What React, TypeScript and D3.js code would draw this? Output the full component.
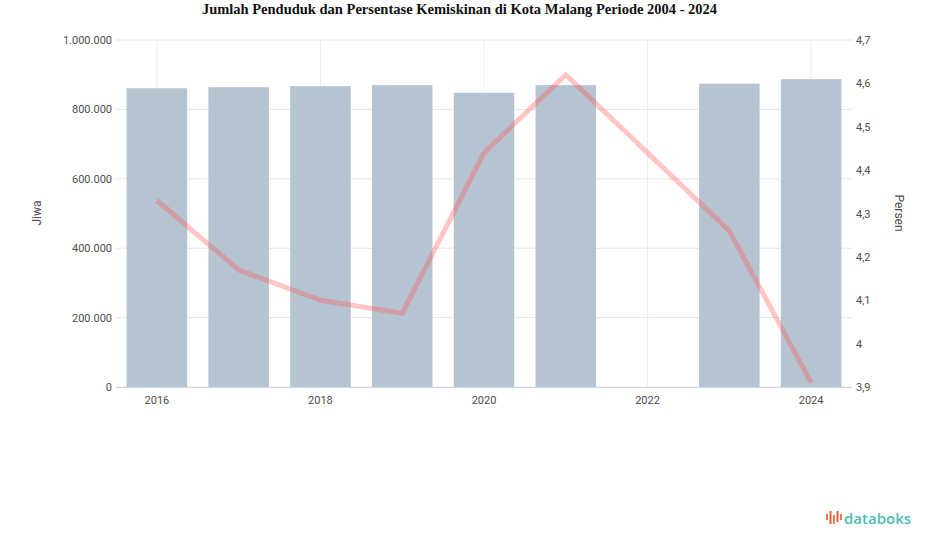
import React from "react";
import * as d3 from "d3";

const years = ["2016", "2017", "2018", "2019", "2020", "2021", "2022", "2023", "2024"];
const population: (number | null)[] = [861000, 864000, 867000, 870000, 848000, 870000, null, 874000, 887000];
const poverty: (number | null)[] = [4.33, 4.17, 4.1, 4.07, 4.44, 4.62, null, 4.26, 3.91];
const leftTicks = [0, 200000, 400000, 600000, 800000, 1000000];
const rightTicks = [3.9, 4.0, 4.1, 4.2, 4.3, 4.4, 4.5, 4.6, 4.7];
const labeledYears = ["2016", "2018", "2020", "2022", "2024"];

const W = 925;
const H = 547;
const top = 40;
const bottom = 387;
const left = 116;
const right = 852;

export default function App() {
  const x = d3.scaleBand<string>().domain(years).range([left, right]).paddingInner(0.26).paddingOuter(0.13);
  const yL = d3.scaleLinear().domain([0, 1000000]).range([bottom, top]);
  const yR = d3.scaleLinear().domain([3.9, 4.7]).range([bottom, top]);
  const fmtL = (v: number) => d3.format(",")(v).replace(/,/g, ".");
  const fmtR = (v: number) => {
    const s = d3.format(".1f")(v);
    return s.endsWith(".0") ? s.slice(0, -2) : s.replace(".", ",");
  };
  const linePts = years
    .map((yr, i) => ({ yr, v: poverty[i] }))
    .filter((d) => d.v !== null) as { yr: string; v: number }[];
  const line = d3
    .line<{ yr: string; v: number }>()
    .x((d) => (x(d.yr) as number) + x.bandwidth() / 2)
    .y((d) => yR(d.v));
  const cx = (yr: string) => (x(yr) as number) + x.bandwidth() / 2;
  const txt = "#4d4d4d";

  return (
    <svg width={W} height={H} style={{ position: "absolute", left: 0, top: 0, background: "#fff" }}>
      <text x={W / 2 - 3} y={14} textAnchor="middle" fontFamily="'Liberation Serif', 'Times New Roman', serif" fontWeight="bold" fontSize={14.5} fill="#111">
        Jumlah Penduduk dan Persentase Kemiskinan di Kota Malang Periode 2004 - 2024
      </text>
      {leftTicks.map((t) => (
        <g key={"l" + t}>
          <line x1={left} x2={right} y1={yL(t)} y2={yL(t)} stroke="#e6e6e6" strokeWidth={1} />
          <text x={112} y={yL(t) + 4} textAnchor="end" fontFamily="Roboto, sans-serif" fontSize={11} fill={txt}>
            {fmtL(t)}
          </text>
        </g>
      ))}
      {labeledYears.map((yr) => (
        <line key={"v" + yr} x1={cx(yr)} x2={cx(yr)} y1={top} y2={bottom} stroke="#ececec" strokeWidth={1} />
      ))}
      <line x1={left} x2={right} y1={bottom + 0.5} y2={bottom + 0.5} stroke="#ccd6eb" strokeWidth={1} />
      {rightTicks.map((t) => (
        <text key={"r" + t} x={856} y={yR(t) + 4} textAnchor="start" fontFamily="Roboto, sans-serif" fontSize={11} fill={txt}>
          {fmtR(t)}
        </text>
      ))}
      {years.map((yr, i) =>
        population[i] === null ? null : (
          <rect
            key={"b" + yr}
            x={x(yr)}
            y={yL(population[i] as number)}
            width={x.bandwidth()}
            height={bottom - yL(population[i] as number)}
            fill="#b6c3d0"
          />
        )
      )}
      <path d={line(linePts) || ""} fill="none" stroke="rgba(255,90,90,0.35)" strokeWidth={5} strokeLinejoin="round" />
      {labeledYears.map((yr) => (
        <text key={"x" + yr} x={cx(yr)} y={404} textAnchor="middle" fontFamily="Roboto, sans-serif" fontSize={11} fill={txt}>
          {yr}
        </text>
      ))}
      <text transform={`translate(41,213) rotate(-90)`} textAnchor="middle" fontFamily="Roboto, sans-serif" fontSize={12} fill={txt}>
        Jiwa
      </text>
      <text transform={`translate(895,213) rotate(90)`} textAnchor="middle" fontFamily="Roboto, sans-serif" fontSize={12} fill={txt}>
        Persen
      </text>
      <g transform="translate(826,511)">
        <rect x={0} y={3} width={2} height={6} fill="#f07b3f" />
        <rect x={3.5} y={0} width={2} height={13} fill="#ee5a4a" />
        <rect x={7} y={4} width={2} height={9} fill="#f07b3f" />
        <rect x={10.5} y={0} width={2} height={11} fill="#ee5a4a" />
        <rect x={14} y={3} width={2} height={6} fill="#f07b3f" />
        <text x={18} y={13} fontFamily="'Open Sans', sans-serif" fontSize={15} fontWeight={600} fill="#4dbdb4">
          databoks
        </text>
      </g>
    </svg>
  );
}
